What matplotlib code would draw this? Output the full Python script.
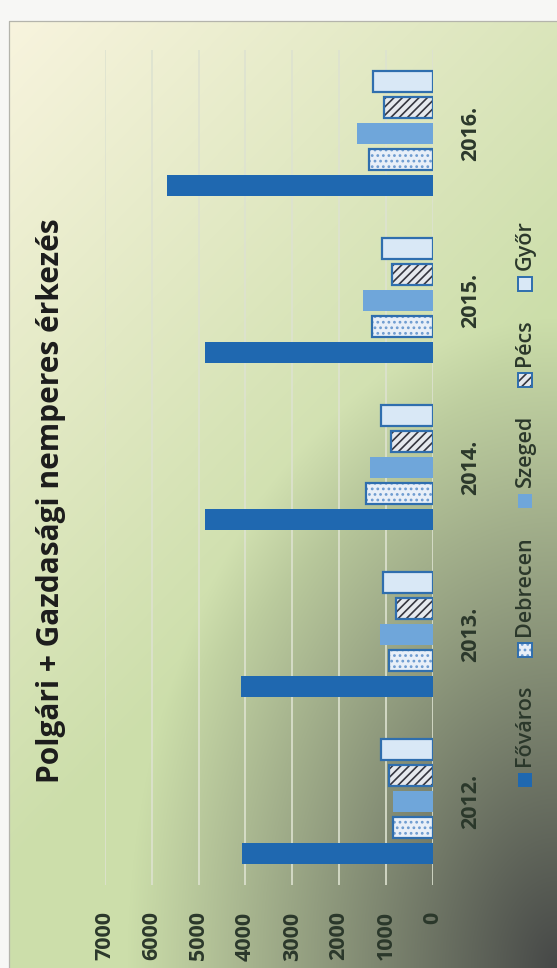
import numpy as np
import matplotlib
matplotlib.use("Agg")
import matplotlib.pyplot as plt
from matplotlib.patches import Rectangle
from matplotlib.lines import Line2D

plt.rcParams['font.family'] = ['Open Sans', 'DejaVu Sans']
plt.rcParams['hatch.linewidth'] = 1.2

# data
years = ['2012.', '2013.', '2014.', '2015.', '2016.']
series = ['Főváros', 'Debrecen', 'Szeged', 'Pécs', 'Győr']
fovaros = [4070, 4100, 4870, 4860, 5680]
debrecen = [840, 930, 1420, 1290, 1360]
szeged = [840, 1130, 1330, 1480, 1610]
pecs = [930, 780, 900, 860, 1030]
gyor = [1110, 1060, 1110, 1080, 1270]
ticks = [0, 1000, 2000, 3000, 4000, 5000, 6000, 7000]
title = 'Polgári + Gazdasági nemperes érkezés'

W, H = 557, 968
fig = plt.figure(figsize=(W / 100, H / 100), dpi=100)
fig.patch.set_facecolor('#f7f7f5')

def fx(px):
    return px / W

def fy(py):
    return 1 - py / H

# scanned paper background: cream -> green, shadow towards bottom right
bg = fig.add_axes([fx(9), 0, 1 - fx(9), fy(21)])
X, Y = np.meshgrid(np.arange(9, W), np.arange(21, H))
cream = np.array([248, 244, 222]) / 255
green = np.array([204, 222, 170]) / 255
dark = np.array([55, 55, 60]) / 255
s = np.clip((((X - 9) / 548) * 0.6 + (Y - 21) / 947) / 0.9, 0, 1)[..., None]
img = cream * (1 - s) + green * s
d = np.sqrt(((W - X) / 430) ** 2 + ((H - Y) / 650) ** 2)
w = (np.clip(1 - d, 0, 1) * 0.9)[..., None]
img = img * (1 - w) + dark * w
bg.imshow(img, aspect='auto', interpolation='bilinear')
bg.axis('off')

fig.add_artist(Line2D([fx(9), fx(9), 1], [0, fy(21), fy(21)],
                      transform=fig.transFigure, color='#b4b4ac', lw=0.9))

# styles
c_fov = '#1f68b0'
c_sze = '#6fa6da'
c_edge = '#2f6eae'
styles = {
    'Főváros': dict(face=c_fov, hatch=None, hcol=None, edge=None),
    'Debrecen': dict(face='#e8eff8', hatch='...', hcol='#6d9bd0', edge=c_edge),
    'Szeged': dict(face=c_sze, hatch=None, hcol=None, edge=None),
    'Pécs': dict(face='#e6e9ee', hatch='////', hcol='#35353f', edge=c_edge),
    'Győr': dict(face='#d9e8f6', hatch=None, hcol=None, edge=c_edge),
}
txt_col = '#2b382b'

ax = fig.add_axes([fx(105), fy(885), fx(432.7) - fx(105), fy(50) - fy(885)])
ax.patch.set_alpha(0)
values = [fovaros, debrecen, szeged, pecs, gyor]
y = np.arange(len(years))
step = 0.155
bw = 0.123
for i, (name, vals) in enumerate(zip(series, values)):
    st = styles[name]
    pos = y + (i - 2) * step
    if st['hatch']:
        ax.barh(pos, vals, height=bw, color=st['face'], hatch=st['hatch'],
                edgecolor=st['hcol'], linewidth=0, zorder=2)
    else:
        ax.barh(pos, vals, height=bw, color=st['face'], linewidth=0, zorder=2)
    if st['edge']:
        ax.barh(pos, vals, height=bw, fill=False, edgecolor=st['edge'],
                linewidth=1.6, zorder=3)

ax.set_xlim(7000, 0)
ax.set_ylim(-0.5, 4.5)
ax.set_xticks(ticks)
ax.set_xticklabels([str(t) for t in ticks], rotation=90, fontsize=15.5,
                   color=txt_col, weight='bold')
ax.tick_params(axis='x', length=0, pad=19)
ax.yaxis.tick_right()
ax.set_yticks(y)
ax.set_yticklabels(years, rotation=90, va='center', ha='left', fontsize=15.5,
                   color=txt_col, weight='bold')
ax.tick_params(axis='y', length=0, pad=19.5)
ax.grid(axis='x', color='#dde2d0', lw=1.2)
ax.set_axisbelow(True)
for sp in ax.spines.values():
    sp.set_visible(False)

fig.text(fx(51), fy(501), title, rotation=90, ha='center', va='center',
         fontsize=21.5, weight='bold', color='#1c1c1c')

# legend, laid out bottom to top like the rotated scan
renderer = fig.canvas.get_renderer()
ym = 780
for name in series:
    st = styles[name]
    sz = 14
    kw = dict(transform=fig.transFigure, facecolor=st['face'], linewidth=0)
    if st['hatch']:
        kw.update(hatch=st['hatch'], edgecolor=st['hcol'])
    fig.add_artist(Rectangle((fx(525 - sz / 2), fy(ym + sz / 2)), sz / W, sz / H, **kw))
    if st['edge']:
        fig.add_artist(Rectangle((fx(525 - sz / 2), fy(ym + sz / 2)), sz / W, sz / H,
                                 transform=fig.transFigure, fill=False,
                                 edgecolor=st['edge'], linewidth=1.4))
    t = fig.text(fx(525), fy(ym - 14), name, rotation=90, ha='center', va='bottom',
                 fontsize=15.5, weight='semibold', color=txt_col)
    bb = t.get_window_extent(renderer)
    ym = (H - bb.y1) - 35

fig.savefig('out.png', dpi=100)
